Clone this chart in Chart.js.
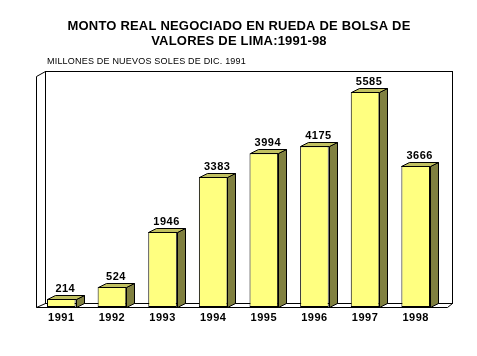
<!DOCTYPE html>
<html>
<head>
<meta charset="utf-8">
<script src="https://cdn.jsdelivr.net/npm/chart.js@4/dist/chart.umd.min.js"></script>
<style>
  html, body { margin: 0; padding: 0; background: #ffffff; }
  canvas { display: block; }
</style>
</head>
<body>
<canvas id="c" width="477" height="356"></canvas>
<script>
const categories = ["1991", "1992", "1993", "1994", "1995", "1996", "1997", "1998"];
const values = [214, 524, 1946, 3383, 3994, 4175, 5585, 3666];
const titleLines = ["MONTO REAL NEGOCIADO EN RUEDA DE BOLSA DE", "VALORES DE LIMA:1991-98"];
const subtitle = "MILLONES DE NUEVOS SOLES DE DIC. 1991";
const yMax = 6000;

const FONT = "'Liberation Sans', Arial, sans-serif";
const BDX = 8, BDY = 4; // bar depth

const box3d = {
  id: 'box3d',
  beforeDatasetsDraw(chart) {
    const ctx = chart.ctx, a = chart.chartArea;
    const L = Math.round(a.left) + 0.5, T = Math.round(a.top) + 0.5;
    const B = Math.round(a.bottom) + 0.5, R = Math.round(a.right) + 0.5;
    const bl = L + 9, bt = T - 5, bb = B - 4, br = R + 11;
    ctx.save();
    ctx.strokeStyle = '#000';
    ctx.lineWidth = 1;
    ctx.strokeRect(bl, bt, br - bl, bb - bt);
    ctx.beginPath();
    ctx.moveTo(L, B); ctx.lineTo(L, T); ctx.lineTo(bl, bt);
    ctx.moveTo(L, B); ctx.lineTo(bl, bb);
    ctx.moveTo(L, B); ctx.lineTo(R + 6, B); ctx.lineTo(br, bb);
    ctx.stroke();
    ctx.restore();
  },
  afterDatasetsDraw(chart) {
    const ctx = chart.ctx;
    const meta = chart.getDatasetMeta(0);
    ctx.save();
    ctx.strokeStyle = '#000';
    ctx.lineWidth = 1;
    meta.data.forEach((bar, i) => {
      const p = bar.getProps(['x', 'y', 'base', 'width'], true);
      const l = Math.round(p.x - p.width / 2) + 0.5;
      const r = Math.round(p.x + p.width / 2) + 0.5;
      const t = Math.round(p.y) + 0.5;
      const b = Math.round(p.base) + 0.5;
      ctx.fillStyle = '#808040';
      ctx.beginPath();
      ctx.moveTo(r, t); ctx.lineTo(r + BDX, t - BDY); ctx.lineTo(r + BDX, b - BDY); ctx.lineTo(r, b); ctx.closePath();
      ctx.fill(); ctx.stroke();
      ctx.fillStyle = '#C0C060';
      ctx.beginPath();
      ctx.moveTo(l, t); ctx.lineTo(l + BDX, t - BDY); ctx.lineTo(r + BDX, t - BDY); ctx.lineTo(r, t); ctx.closePath();
      ctx.fill(); ctx.stroke();
      ctx.fillStyle = '#000';
      ctx.font = "bold 11px " + FONT;
      ctx.letterSpacing = '0.5px';
      ctx.textAlign = 'center';
      ctx.textBaseline = 'alphabetic';
      ctx.fillText(String(values[i]), p.x + BDX / 2, t - BDY - 4);
      ctx.textBaseline = 'middle';
      ctx.fillText(categories[i], p.x, 318);
    });
    ctx.restore();
  },
  afterDraw(chart) {
    const ctx = chart.ctx;
    ctx.save();
    ctx.fillStyle = '#000';
    ctx.textAlign = 'center';
    ctx.textBaseline = 'middle';
    ctx.font = "bold 13px " + FONT;
    ctx.letterSpacing = '0.2px';
    ctx.fillText(titleLines[0], 239, 26);
    ctx.fillText(titleLines[1], 239, 41);
    ctx.textAlign = 'left';
    ctx.font = "9px " + FONT;
    ctx.letterSpacing = '0.2px';
    ctx.fillText(subtitle, 47, 62);
    ctx.restore();
  }
};

new Chart(document.getElementById('c'), {
  type: 'bar',
  data: {
    labels: categories,
    datasets: [{
      data: values,
      backgroundColor: '#FFFF80',
      borderColor: '#000000',
      borderWidth: 1,
      borderSkipped: false,
      barPercentage: 0.565,
      categoryPercentage: 1.0
    }]
  },
  options: {
    responsive: false,
    animation: false,
    devicePixelRatio: 1,
    layout: { padding: { left: 36, right: 36, top: 76, bottom: 49 } },
    plugins: { legend: { display: false }, tooltip: { enabled: false }, title: { display: false } },
    scales: {
      x: { display: false },
      y: { display: false, min: 0, max: yMax }
    }
  },
  plugins: [box3d]
});
</script>
</body>
</html>
